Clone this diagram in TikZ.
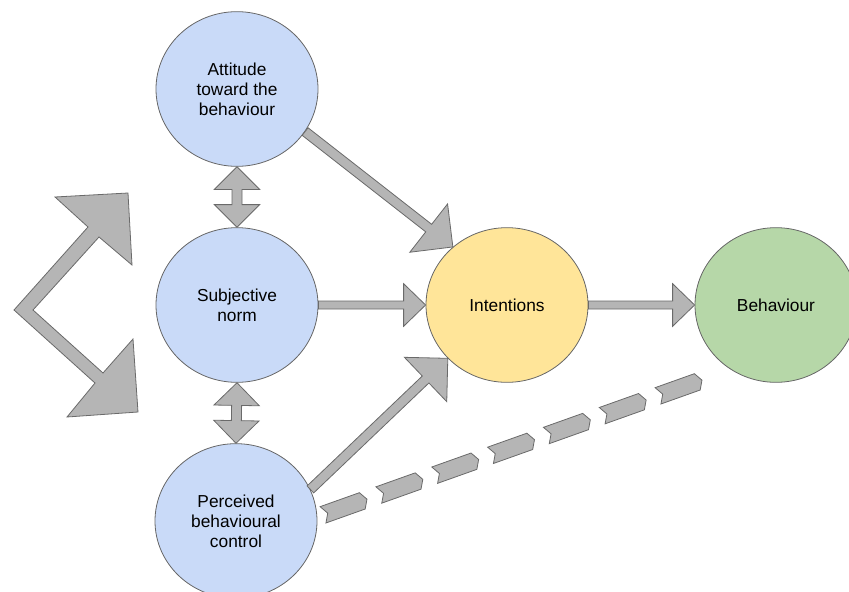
\documentclass[tikz,border=0pt]{standalone}
\usepackage{fontspec}
\setmainfont{Liberation Sans}
\usetikzlibrary{calc,shapes.geometric,shapes.symbols}

\definecolor{attblue}{HTML}{C9DAF8}
\definecolor{intyellow}{HTML}{FFE599}
\definecolor{behgreen}{HTML}{B6D7A8}
\definecolor{arrowgray}{HTML}{B5B5B5}
\definecolor{arrowedge}{HTML}{6A6A6A}
\definecolor{circedge}{HTML}{666666}

\tikzset{
  factor/.style={ellipse, draw=circedge, line width=0.6pt, inner sep=0pt,
    minimum width=121.5pt, minimum height=116pt, align=center,
    font=\fontsize{13pt}{15pt}\selectfont},
  blockarrow/.style={fill=arrowgray, draw=arrowedge, line width=0.6pt, line join=miter},
  chevron/.style={signal, signal from=west, signal to=east, fill=arrowgray,
    draw=arrowedge, line width=0.6pt, minimum width=35pt, minimum height=13pt,
    inner sep=0pt, signal pointer angle=120}
}

% from, to, shaft half width, head half width, head length
\newcommand{\fatarrow}[5]{%
  \coordinate (fa-h) at ($(#2)!#5!(#1)$);
  \draw[blockarrow] ($(#1)!#3!90:(#2)$) -- ($(fa-h)!#3!90:(#2)$) -- ($(fa-h)!#4!90:(#2)$) -- (#2)
    -- ($(fa-h)!#4!-90:(#2)$) -- ($(fa-h)!#3!-90:(#2)$) -- ($(#1)!#3!-90:(#2)$) -- cycle;
}
\newcommand{\fatdoublearrow}[5]{%
  \coordinate (fd-a) at ($(#1)!#5!(#2)$);
  \coordinate (fd-b) at ($(#2)!#5!(#1)$);
  \draw[blockarrow] (#1) -- ($(fd-a)!#4!90:(#2)$) -- ($(fd-a)!#3!90:(#2)$) -- ($(fd-b)!#3!90:(#2)$)
    -- ($(fd-b)!#4!90:(#2)$) -- (#2) -- ($(fd-b)!#4!-90:(#2)$) -- ($(fd-b)!#3!-90:(#2)$)
    -- ($(fd-a)!#3!-90:(#2)$) -- ($(fd-a)!#4!-90:(#2)$) -- cycle;
}

\begin{document}
\begin{tikzpicture}[x=0.75pt, y=-0.75pt]
    \useasboundingbox (0,0) rectangle (849,592);

    % Factors
    \node[factor, fill=attblue] (att) at (237,89) {Attitude\\toward the\\behaviour};
    \node[factor, fill=attblue] (subj) at (237,305) {Subjective\\norm};
    \node[factor, fill=attblue] (perc) at (236,521) {Perceived\\behavioural\\control};
    \node[factor, fill=intyellow] (int) at (507,305) {Intentions};
    \node[factor, fill=behgreen] (beh) at (776,305) {Behaviour};

    % Correlations
    \fatdoublearrow{att.south}{subj.north}{3.75pt}{17pt}{17pt}
    \fatdoublearrow{subj.south}{perc.north}{3.75pt}{17pt}{17pt}
    \draw[blockarrow] (128,193) -- (132,265) -- (99,237) -- (33,310) -- (103,373) -- (133,339)
      -- (138,412) -- (67,417) -- (95,383) -- (14,310) -- (88,227) -- (55,197) -- cycle;

    % Paths to intentions and behaviour
    \fatarrow{att.-32}{int.133}{3.6pt}{23pt}{23pt}
    \fatarrow{subj.east}{int.west}{3pt}{16pt}{16.5pt}
    \fatarrow{perc.23}{int.222}{3.6pt}{23pt}{23pt}
    \fatarrow{int.east}{beh.west}{3pt}{16pt}{16.5pt}

    % Direct link from control to behaviour
    \coordinate (pbc-dash) at (345,507);
    \coordinate (beh-dash) at (680,388);
    \foreach \i in {0,...,6}
      \node[chevron, rotate=19.6] (dash\i) at ($(pbc-dash)!\i/6!(beh-dash)$) {};
\end{tikzpicture}
\end{document}
